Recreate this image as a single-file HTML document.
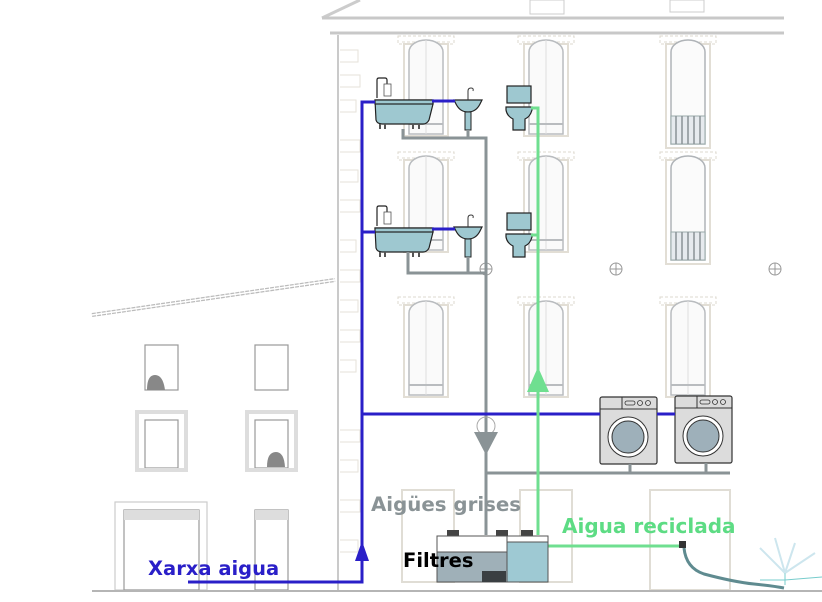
<!DOCTYPE html>
<html><head><meta charset="utf-8"><style>
html,body{margin:0;padding:0;background:#fff;}
svg{display:block;}
text{font-family:"DejaVu Sans","Liberation Sans",sans-serif;font-weight:bold;}
</style></head><body>
<svg width="822" height="602" viewBox="0 0 822 602" xmlns="http://www.w3.org/2000/svg">
<defs>
<g id="win">
 <path d="M-28,-8 h56 v8 h-4 v-2 h-48 v2 h-4z" fill="none" stroke="#ddd9cf" stroke-dasharray="3,2"/>
 <rect x="-22" y="0" width="44" height="92" fill="none" stroke="#e2ded5" stroke-width="2"/>
 <path d="M-17,90 V8 A17,12 0 0 1 17,8 V90z" fill="#fafafa" stroke="#b9bcbf" stroke-width="1.5"/>
 <line x1="0" y1="-4" x2="0" y2="90" stroke="#ddd"/>
 <line x1="-17" y1="80" x2="17" y2="80" stroke="#b9bcbf" stroke-width="2"/>
</g>
<g id="bwin">
 <path d="M-28,-8 h56 v8 h-4 v-2 h-48 v2 h-4z" fill="none" stroke="#ddd9cf" stroke-dasharray="3,2"/>
 <rect x="-22" y="0" width="44" height="104" fill="none" stroke="#e2ded5" stroke-width="2"/>
 <path d="M-17,100 V8 A17,12 0 0 1 17,8 V100z" fill="#fbfbfb" stroke="#b0b4b8" stroke-width="1.5"/>
 <rect x="-17" y="72" width="34" height="28" fill="#e6eaee" stroke="#9aa"/>
 <path d="M-12,72v28M-6,72v28M0,72v28M6,72v28M12,72v28" stroke="#8a9196" stroke-width="1.5"/>
</g>
<g id="bath">
 <path d="M-4,-2 v-18 q0,-2 2,-2 h6 q2,0 2,2 v14" fill="#fff" stroke="#222" stroke-width="1.2"/>
 <rect x="3" y="-16" width="7" height="12" fill="#fff" stroke="#555" stroke-width="0.8"/>
 <path d="M-6,0 h58 v4 l-4,16 q-2,4 -6,4 h-40 q-6,0 -7,-4 z" fill="#9ec8d0" stroke="#222" stroke-width="1.2"/>
 <rect x="-6" y="0" width="58" height="4" fill="#9ec8d0" stroke="#222" stroke-width="1.2"/>
 <path d="M-1,24v5M4,24v5M32,24v5M38,24v5" stroke="#555" stroke-width="2"/>
</g>
<g id="sink">
 <path d="M-14,0 h28 l-2,4 q-4,8 -12,8 q-8,0 -12,-8z" fill="#9ec8d0" stroke="#222" stroke-width="1.2"/>
 <rect x="-3" y="12" width="6" height="18" fill="#9ec8d0" stroke="#222" stroke-width="1"/>
 <path d="M0,0 v-9 q0,-3 3,-3 q3,0 2,3" fill="none" stroke="#333" stroke-width="1"/>
</g>
<g id="wc">
 <rect x="-12" y="0" width="24" height="17" fill="#9ec8d0" stroke="#222" stroke-width="1.2"/>
 <path d="M-13,21 h26 v3 q-2,7 -7,9 v11 h-12 v-11 q-6,-3 -7,-9z" fill="#9ec8d0" stroke="#222" stroke-width="1.2"/>
</g>
<g id="wash">
 <rect x="0" y="0" width="57" height="67" rx="2" fill="#dcdcdc" stroke="#333" stroke-width="1.2"/>
 <line x1="0" y1="12" x2="57" y2="12" stroke="#333"/>
 <line x1="22" y1="0" x2="22" y2="12" stroke="#333"/>
 <rect x="25" y="4" width="10" height="4" rx="2" fill="none" stroke="#333" stroke-width="0.8"/>
 <circle cx="40" cy="6" r="2.5" fill="none" stroke="#333" stroke-width="0.8"/>
 <circle cx="48" cy="6" r="2.5" fill="none" stroke="#333" stroke-width="0.8"/>
 <circle cx="28" cy="40" r="20" fill="#fff" stroke="#333"/>
 <circle cx="28" cy="40" r="16" fill="#9eb0ba" stroke="#333"/>
</g>
</defs>

<path d="M322,18 L360,0" stroke="#ccc" stroke-width="3" fill="none"/>
<line x1="322" y1="18" x2="784" y2="18" stroke="#c8c8c8" stroke-width="3"/>
<line x1="330" y1="33" x2="784" y2="33" stroke="#c8c8c8" stroke-width="3"/>
<line x1="338" y1="35" x2="338" y2="590" stroke="#b8b8b8" stroke-width="1.5"/>
<g stroke="#e5e2da" fill="none">
 <path d="M340,50h18v12h-18M340,75h20v12h-20M340,100h16v12h-16M340,140h20v12h-20M340,170h18v12h-18M340,200h20v12h-20M340,240h16v12h-16M340,270h20v12h-20M340,300h18v12h-18M340,330h20v12h-20M340,360h16v12h-16M340,430h20v12h-20M340,460h18v12h-18M340,500h20v12h-20M340,540h18v12h-18"/>
</g>
<rect x="530" y="0" width="34" height="14" fill="none" stroke="#ccc"/>
<rect x="670" y="0" width="34" height="12" fill="none" stroke="#ccc"/>
<use href="#win" x="426" y="44"/>
<use href="#win" x="546" y="44"/>
<use href="#bwin" x="688" y="44"/>
<use href="#win" x="426" y="160"/>
<use href="#win" x="546" y="160"/>
<use href="#bwin" x="688" y="160"/>
<use href="#win" x="426" y="305"/>
<use href="#win" x="546" y="305"/>
<use href="#win" x="688" y="305"/>
<g fill="none" stroke="#e0ddd5" stroke-width="2">
 <rect x="402" y="490" width="52" height="92"/><rect x="520" y="490" width="52" height="92"/><rect x="650" y="490" width="80" height="100"/>
</g>
<g fill="none" stroke="#999">
 <circle cx="486" cy="269" r="6"/><path d="M480,269h12M486,263v12"/>
 <circle cx="616" cy="269" r="6"/><path d="M610,269h12M616,263v12"/>
 <circle cx="775" cy="269" r="6"/><path d="M769,269h12M775,263v12"/>
</g>

<path d="M92,315 L335,280" stroke="#bbb" stroke-width="4" stroke-dasharray="4,1" fill="none"/>
<path d="M92,315 L335,280" stroke="#fff" stroke-width="1.5" fill="none"/>
<g fill="none" stroke="#999" stroke-width="1.2">
 <rect x="145" y="345" width="33" height="45"/><rect x="255" y="345" width="33" height="45"/>
 <rect x="145" y="420" width="33" height="48"/><rect x="255" y="420" width="33" height="48"/>
 <rect x="115" y="502" width="92" height="88" stroke="#ccc"/><rect x="124" y="510" width="75" height="80"/>
 <rect x="255" y="510" width="33" height="80"/>
</g>
<g fill="none" stroke="#ddd" stroke-width="4"><rect x="137" y="412" width="49" height="58"/><rect x="247" y="412" width="49" height="58"/></g>
<rect x="124" y="510" width="75" height="10" fill="#ddd"/><rect x="255" y="510" width="33" height="10" fill="#ddd"/>
<path d="M147,390 q0,-15 8,-15 q8,0 10,15z" fill="#888"/>
<path d="M267,467 q0,-15 9,-15 q8,0 9,15z" fill="#888"/>
<line x1="92" y1="591" x2="822" y2="591" stroke="#b5b5b5" stroke-width="2"/>

<use href="#bath" x="381" y="100"/><use href="#sink" x="468" y="100"/><use href="#wc" x="519" y="86"/>
<use href="#bath" x="381" y="228"/><use href="#sink" x="468" y="227"/><use href="#wc" x="519" y="213"/>
<use href="#wash" x="600" y="397"/><use href="#wash" x="675" y="396"/>

<g stroke="#8a9396" stroke-width="3" fill="none">
 <path d="M403,129 V138 H486 V535"/><path d="M468,130 V138"/>
 <path d="M408,252 V273 H486"/><path d="M468,257 V273"/>
 <path d="M486,473 H730"/><path d="M630,464 V473"/><path d="M706,463 V473"/>
</g>
<circle cx="486" cy="426" r="9" fill="none" stroke="#aaa"/>
<polygon points="474,432 498,432 486,455" fill="#8a9396"/>

<g stroke="#2a1fc8" stroke-width="3" fill="none">
 <path d="M375,102 H362 V582 H188"/><path d="M362,232 H375"/>
 <path d="M432,101 H455"/><path d="M432,229 H455"/>
 <path d="M362,414 H600"/><path d="M657,414 H675"/>
</g>
<polygon points="362,541 355,561 369,561" fill="#2a1fc8"/>

<g stroke="#6fdf90" stroke-width="3" fill="none">
 <path d="M531,108 H538 V535"/><path d="M531,235 H538"/><path d="M548,546 H682"/>
</g>
<polygon points="538,367 527,392 549,392" fill="#6fdf90"/>
<rect x="679" y="541" width="7" height="7" fill="#333"/>
<path d="M684,548 q2,20 20,26 q30,8 50,10 q20,2 30,4" fill="none" stroke="#5f8b90" stroke-width="3"/>
<path d="M785,585 l0,-12 M760,580 l25,0 l37,-3" stroke="#7cc" stroke-width="1" fill="none"/>
<path d="M785,573 l-25,-25 M785,573 l-10,-35 M785,573 l10,-30 M785,573 l30,-20" stroke="#cde6ee" stroke-width="2" fill="none"/>

<rect x="447" y="530" width="12" height="6" fill="#444"/><rect x="496" y="530" width="12" height="6" fill="#444"/><rect x="521" y="530" width="12" height="6" fill="#444"/>
<rect x="437" y="536" width="111" height="46" fill="#fff" stroke="#555"/>
<rect x="437" y="552" width="70" height="30" fill="#9fb0b8" stroke="#555"/>
<rect x="507" y="542" width="41" height="40" fill="#9ec9d3" stroke="#555"/>
<line x1="507" y1="536" x2="507" y2="582" stroke="#555"/>
<rect x="482" y="571" width="24" height="11" fill="#3a3f42"/>

<text x="371" y="511" font-size="19.8" fill="#8a9396">Aigües grises</text>
<text x="562" y="533" font-size="20" fill="#5ddc84">Aigua reciclada</text>
<text x="403" y="567" font-size="19.5" fill="#000">Filtres</text>
<text x="148" y="575" font-size="19.5" fill="#2a1fc8">Xarxa aigua</text>
</svg>
</body></html>
